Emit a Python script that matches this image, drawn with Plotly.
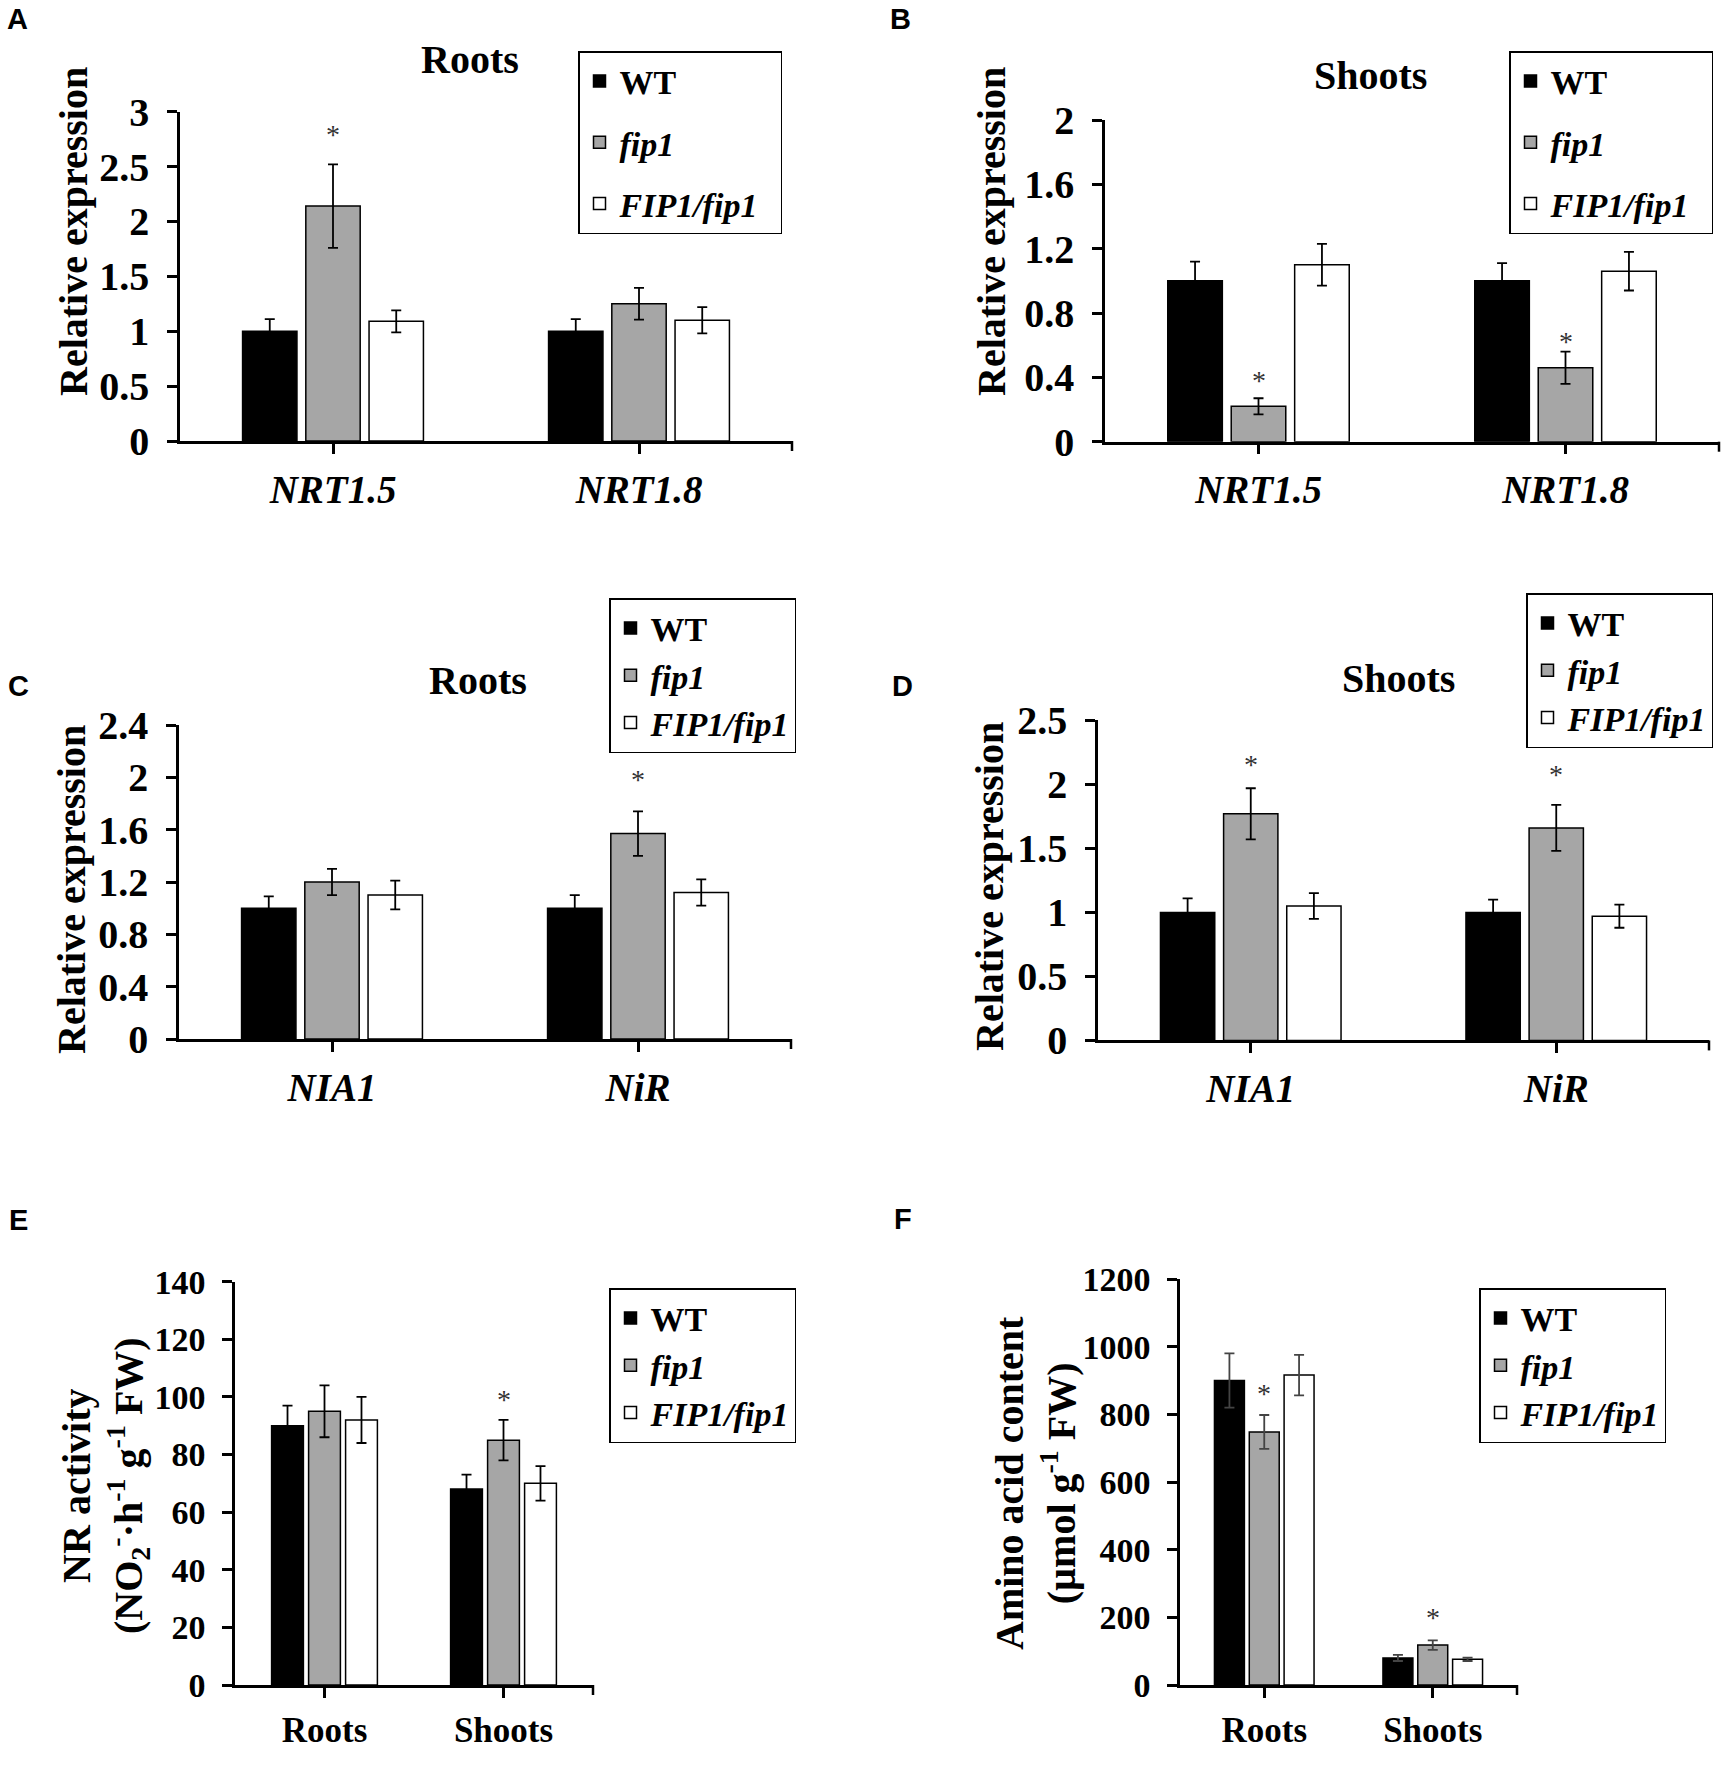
import plotly.graph_objects as go

W, H = 1731, 1766
SERIF = "Liberation Serif, Times New Roman, serif"

genotypes = ["WT", "fip1", "FIP1/fip1"]
legend_labels = ["WT", "<i>fip1</i>", "<i>FIP1/fip1</i>"]
fill_colors = ["#000000", "#a6a6a6", "#ffffff"]

# A - roots, nitrate transporters
a_genes = ["NRT1.5", "NRT1.8"]
a_wt, a_wt_sd = [1.00, 1.00], [0.11, 0.11]
a_fip1, a_fip1_sd = [2.14, 1.25], [0.38, 0.145]
a_comp, a_comp_sd = [1.09, 1.10], [0.10, 0.12]
a_stars = [("NRT1.5", 2.82)]
a_ticks = [0, 0.5, 1, 1.5, 2, 2.5, 3]

# B - shoots, nitrate transporters
b_genes = ["NRT1.5", "NRT1.8"]
b_wt, b_wt_sd = [1.00, 1.00], [0.12, 0.11]
b_fip1, b_fip1_sd = [0.22, 0.46], [0.05, 0.10]
b_comp, b_comp_sd = [1.10, 1.06], [0.13, 0.12]
b_stars = [("NRT1.5", 0.40), ("NRT1.8", 0.64)]
b_ticks = [0, 0.4, 0.8, 1.2, 1.6, 2]

# C - roots, nitrate reduction genes
c_genes = ["NIA1", "NiR"]
c_wt, c_wt_sd = [1.00, 1.00], [0.09, 0.10]
c_fip1, c_fip1_sd = [1.20, 1.57], [0.10, 0.17]
c_comp, c_comp_sd = [1.10, 1.12], [0.11, 0.10]
c_stars = [("NiR", 2.01)]
c_ticks = [0, 0.4, 0.8, 1.2, 1.6, 2, 2.4]

# D - shoots, nitrate reduction genes
d_genes = ["NIA1", "NiR"]
d_wt, d_wt_sd = [1.00, 1.00], [0.11, 0.10]
d_fip1, d_fip1_sd = [1.77, 1.66], [0.20, 0.18]
d_comp, d_comp_sd = [1.05, 0.97], [0.10, 0.09]
d_stars = [("NIA1", 2.18), ("NiR", 2.10)]
d_ticks = [0, 0.5, 1, 1.5, 2, 2.5]

# E - NR activity
e_tissues = ["Roots", "Shoots"]
e_wt, e_wt_sd = [90, 68], [7, 5]
e_fip1, e_fip1_sd = [95, 85], [9, 7]
e_comp, e_comp_sd = [92, 70], [8, 6]
e_stars = [("Shoots", 100)]
e_ticks = [0, 20, 40, 60, 80, 100, 120, 140]

# F - amino acid content
f_tissues = ["Roots", "Shoots"]
f_wt, f_wt_sd = [900, 80], [80, 9]
f_fip1, f_fip1_sd = [748, 118], [50, 14]
f_comp, f_comp_sd = [916, 76], [60, 5]
f_stars = [("Roots", 869), ("Shoots", 208)]
f_ticks = [0, 200, 400, 600, 800, 1000, 1200]

expr = "Relative expression"
panels = [
    dict(letter="A", letter_xy=(17, 19), cats=a_genes, means=[a_wt, a_fip1, a_comp],
         errs=[a_wt_sd, a_fip1_sd, a_comp_sd], ticks=a_ticks, stars=a_stars, italic=True,
         ytitle=expr, title="Roots", title_xy=(470, 60), ytitle_xy=(73, 232),
         box=(180, 792, 111.7, 441), legend_xy=(578, 51), gap=14, pad=2, xfont=39, yfont=40,
         errcolor="black"),
    dict(letter="B", letter_xy=(900, 19), cats=b_genes, means=[b_wt, b_fip1, b_comp],
         errs=[b_wt_sd, b_fip1_sd, b_comp_sd], ticks=b_ticks, stars=b_stars, italic=True,
         ytitle=expr, title="Shoots", title_xy=(1370, 75), ytitle_xy=(991, 232),
         box=(1105, 1719, 120, 441.7), legend_xy=(1509, 51), gap=14, pad=2, xfont=39, yfont=40,
         errcolor="black"),
    dict(letter="C", letter_xy=(18, 686), cats=c_genes, means=[c_wt, c_fip1, c_comp],
         errs=[c_wt_sd, c_fip1_sd, c_comp_sd], ticks=c_ticks, stars=c_stars, italic=True,
         ytitle=expr, title="Roots", title_xy=(478, 680), ytitle_xy=(71, 890),
         box=(179, 791, 725, 1039), legend_xy=(609, 598), gap=0, pad=0, xfont=39, yfont=40,
         errcolor="black"),
    dict(letter="D", letter_xy=(902, 686), cats=d_genes, means=[d_wt, d_fip1, d_comp],
         errs=[d_wt_sd, d_fip1_sd, d_comp_sd], ticks=d_ticks, stars=d_stars, italic=True,
         ytitle=expr, title="Shoots", title_xy=(1398, 678), ytitle_xy=(989, 887),
         box=(1098, 1709, 720.4, 1040.4), legend_xy=(1526, 593), gap=0, pad=0, xfont=39, yfont=40,
         errcolor="black"),
    dict(letter="E", letter_xy=(18, 1220), cats=e_tissues, means=[e_wt, e_fip1, e_comp],
         errs=[e_wt_sd, e_fip1_sd, e_comp_sd], ticks=e_ticks, stars=e_stars, italic=False,
         ytitle="NR activity<br>(NO<sub>2</sub><sup>-</sup>·h<sup>-1</sup> g<sup>-1</sup> FW)",
         title=None, title_xy=None, ytitle_xy=(105, 1486),
         box=(235, 593, 1281.7, 1685), legend_xy=(609, 1288), gap=0, pad=0, xfont=35, yfont=34,
         errcolor="black"),
    dict(letter="F", letter_xy=(903, 1219), cats=f_tissues, means=[f_wt, f_fip1, f_comp],
         errs=[f_wt_sd, f_fip1_sd, f_comp_sd], ticks=f_ticks, stars=f_stars, italic=False,
         ytitle="Amino acid content<br>(µmol g<sup>-1</sup> FW)",
         title=None, title_xy=None, ytitle_xy=(1035, 1483),
         box=(1180, 1517, 1279, 1685), legend_xy=(1479, 1288), gap=0, pad=0, xfont=35, yfont=34,
         errcolor="#444444"),
]

fig = go.Figure()
annotations = []
shapes = []
TICKLEN = 10

for i, p in enumerate(panels, start=1):
    sfx = "" if i == 1 else str(i)
    x0, x1, y0, y1 = p["box"]
    for g in range(3):
        fig.add_trace(go.Bar(
            x=p["cats"], y=p["means"][g], name=legend_labels[g] + "\u00a0" * p["pad"],
            marker=dict(color=fill_colors[g], line=dict(color="black", width=1.5)),
            error_y=dict(type="data", array=p["errs"][g], color=p["errcolor"],
                         thickness=1.8, width=5),
            xaxis="x" + sfx, yaxis="y" + sfx, legend="legend" + sfx,
            legendgroup=f"p{i}g{g}", showlegend=True,
        ))

    fig.update_layout(**{
        "xaxis" + sfx: dict(
            domain=[x0 / W, x1 / W], anchor="y" + sfx, type="category", automargin=False,
            showline=True, linecolor="black", linewidth=2.5,
            ticks="outside", ticklen=TICKLEN, tickwidth=2.5, tickcolor="black",
            ticklabelstandoff=2, showgrid=False, zeroline=False,
            tickfont=dict(family=SERIF, size=p["xfont"], color="black", weight="bold",
                          style="italic" if p["italic"] else "normal"),
        ),
        "yaxis" + sfx: dict(
            domain=[1 - y1 / H, 1 - y0 / H], anchor="x" + sfx, automargin=False,
            range=[0, p["ticks"][-1]], tickmode="array", tickvals=p["ticks"],
            showline=True, linecolor="black", linewidth=2.5,
            ticks="outside", ticklen=TICKLEN, tickwidth=2.5, tickcolor="black",
            ticklabelstandoff=10, showgrid=False, zeroline=False,
            tickfont=dict(family=SERIF, size=p["yfont"], color="black", weight="bold"),
        ),
        "legend" + sfx: dict(
            x=p["legend_xy"][0] / W, y=1 - p["legend_xy"][1] / H,
            xanchor="left", yanchor="top", bgcolor="white",
            bordercolor="black", borderwidth=1.5, tracegroupgap=p["gap"],
            font=dict(family=SERIF, size=34, color="black", weight="bold"),
        ),
    })

    # tick at the right end of the category axis
    shapes.append(dict(type="line", xref=f"x{sfx} domain", yref=f"y{sfx} domain",
                       x0=1, x1=1, y0=0, y1=-TICKLEN / (y1 - y0),
                       line=dict(color="black", width=2.5)))

    annotations.append(dict(text=p["letter"], xref="paper", yref="paper",
                            x=p["letter_xy"][0] / W, y=1 - p["letter_xy"][1] / H,
                            showarrow=False, xanchor="center", yanchor="middle",
                            font=dict(family="Liberation Sans, Arial, sans-serif", size=29,
                                      color="black", weight="bold")))
    annotations.append(dict(text=p["ytitle"], xref="paper", yref="paper",
                            x=p["ytitle_xy"][0] / W, y=1 - p["ytitle_xy"][1] / H,
                            textangle=-90, showarrow=False, xanchor="center", yanchor="middle",
                            font=dict(family=SERIF, size=40, color="black", weight="bold")))
    if p["title"]:
        annotations.append(dict(text=p["title"], xref="paper", yref="paper",
                                x=p["title_xy"][0] / W, y=1 - p["title_xy"][1] / H,
                                showarrow=False, xanchor="center", yanchor="middle",
                                font=dict(family=SERIF, size=40, color="black", weight="bold")))
    for cat, yv in p["stars"]:
        annotations.append(dict(text="*", xref="x" + sfx, yref="y" + sfx, x=cat, y=yv,
                                showarrow=False, xanchor="center", yanchor="middle", yshift=-3,
                                font=dict(family=SERIF, size=28, color="#333333")))

fig.update_layout(
    width=W, height=H, margin=dict(l=0, r=0, t=0, b=0, autoexpand=False),
    paper_bgcolor="white", plot_bgcolor="white",
    barmode="group", bargap=0.38, bargroupgap=0.14,
    annotations=annotations, shapes=shapes,
)

fig.write_html("out.html", config={"displayModeBar": False},
               post_script="document.body.style.margin='0';")
